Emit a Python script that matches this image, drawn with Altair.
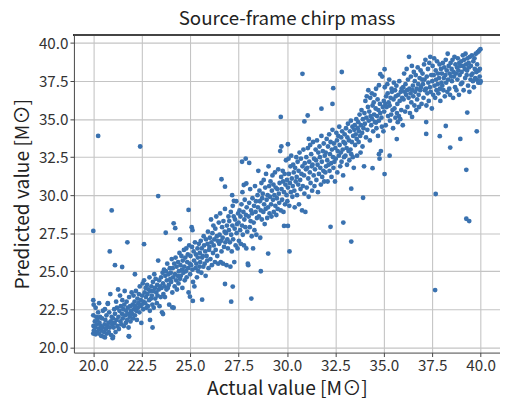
import altair as alt
import pandas as pd

# Hand-read points: [actual, predicted]
band_20_22 = [
    [20.0,23.1],[20.02,22.8],[20.0,22.1],[20.01,21.4],[20.0,20.9],[20.03,21.1],[20.08,21.7],[20.1,21.3],[20.12,20.85],[20.15,22.0],
    [20.18,21.5],[20.2,21.0],[20.22,21.8],[20.25,22.3],[20.28,21.2],[20.3,20.9],[20.32,21.6],[20.35,22.0],[20.38,21.4],[20.4,20.75],
    [20.42,21.1],[20.45,21.9],[20.48,21.3],[20.5,22.4],[20.12,22.6],[20.3,22.9],
    [20.52,20.7],[20.55,21.0],[20.58,21.5],[20.6,20.65],[20.62,21.8],[20.65,21.2],[20.68,22.1],[20.7,20.9],[20.72,21.4],[20.75,22.9],
    [20.78,21.6],[20.8,21.0],[20.82,22.3],[20.85,21.3],[20.88,23.5],[20.9,21.7],[20.92,20.8],[20.95,22.0],[20.98,21.5],[20.6,22.5],[20.75,22.85],
    [21.0,20.6],[21.02,21.9],[21.05,21.3],[21.08,22.5],[21.1,21.6],[21.12,22.2],[21.15,21.0],[21.18,23.0],[21.2,21.8],[21.22,22.6],
    [21.25,21.4],[21.28,23.8],[21.3,22.0],[21.32,21.2],[21.35,22.4],[21.38,23.4],[21.4,21.7],[21.42,22.7],[21.45,21.5],[21.48,22.2],[21.5,23.1],
    [21.52,21.9],[21.55,22.5],[21.58,21.4],[21.6,22.8],[21.62,23.7],[21.65,22.1],[21.68,21.6],[21.7,22.4],[21.72,23.0],[21.75,21.8],
    [21.78,22.6],[21.8,22.2],[21.82,21.3],[21.85,23.3],[21.88,22.0],[21.9,22.7],[21.92,21.7],[21.95,22.4],[21.98,23.6],[21.85,20.7],
]

band_22_26 = [
    [22.0,22.2],[22.03,22.8],[22.05,21.9],[22.08,23.4],[22.1,22.5],[22.13,23.0],[22.15,22.1],[22.18,22.7],[22.2,23.7],[22.22,22.4],
    [22.25,21.8],[22.28,23.2],[22.3,22.6],[22.33,22.9],[22.35,23.5],[22.38,22.3],[22.4,24.0],[22.42,22.7],[22.45,23.1],[22.48,21.6],
    [22.5,22.8],[22.52,23.4],[22.55,24.2],[22.58,22.5],[22.6,23.0],[22.62,24.4],[22.65,23.6],[22.68,22.9],[22.7,23.9],[22.72,23.3],
    [22.75,22.6],[22.78,24.1],[22.8,23.5],[22.82,22.7],[22.85,23.8],[22.88,23.1],[22.9,24.6],[22.92,22.4],[22.95,23.7],[22.98,23.2],
    [23.0,24.0],[23.02,23.4],[23.05,22.8],[23.08,24.3],[23.1,23.7],[23.12,22.6],[23.15,24.8],[23.18,23.9],[23.2,23.2],[23.22,24.5],
    [23.25,23.6],[23.28,22.9],[23.3,24.1],[23.32,23.4],[23.35,25.7],[23.38,23.8],[23.4,24.4],[23.42,22.7],[23.45,24.0],[23.48,23.3],
    [23.5,24.6],[23.52,23.9],[23.55,22.3],[23.58,24.9],[23.6,24.2],[23.62,23.5],[23.65,25.1],[23.68,24.0],[23.7,23.3],[23.72,24.7],
    [23.75,25.0],[23.78,23.8],[23.8,24.4],[23.82,25.5],[23.85,23.9],[23.88,24.8],[23.9,24.1],[23.92,22.8],[23.95,25.2],[23.98,24.5],
    [24.0,24.9],[24.02,24.3],[24.05,25.8],[24.08,23.6],[24.1,25.2],[24.12,24.6],[24.15,22.6],[24.18,25.5],[24.2,24.0],[24.22,24.8],
    [24.25,25.9],[24.28,24.4],[24.3,25.3],[24.32,23.8],[24.35,24.7],[24.38,25.6],[24.4,24.2],[24.42,25.0],[24.45,26.2],[24.48,24.5],
    [24.5,25.4],[24.52,24.7],[24.55,26.0],[24.58,25.1],[24.6,23.9],[24.62,25.7],[24.65,24.9],[24.68,26.4],[24.7,25.3],[24.72,24.4],
    [24.75,25.9],[24.78,25.0],[24.8,26.5],[24.82,24.6],[24.85,25.6],[24.88,26.1],[24.9,25.2],[24.92,23.6],[24.95,26.7],[24.98,25.5],
    [25.0,24.8],[25.02,26.0],[25.05,25.4],[25.08,27.9],[25.1,26.6],[25.12,25.1],[25.15,24.3],[25.18,26.3],[25.2,25.7],[25.22,24.0],
    [25.25,26.9],[25.28,25.2],[25.3,26.1],[25.32,25.5],[25.35,24.6],[25.38,26.5],[25.4,25.9],[25.42,25.0],[25.45,26.8],[25.48,25.3],[25.12,27.7],
    [25.5,26.2],[25.52,25.6],[25.55,27.0],[25.58,24.9],[25.6,26.5],[25.62,25.9],[25.65,26.0],[25.68,25.3],[25.7,27.3],[25.72,26.7],
    [25.75,25.5],[25.78,26.3],[25.8,24.7],[25.82,27.1],[25.85,26.0],[25.88,25.7],[25.9,26.8],[25.92,27.6],[25.95,25.2],[25.98,26.4],
]

band_26_30 = [
    [26.0,26.6],[26.02,27.2],[26.05,25.8],[26.08,28.4],[26.1,26.9],[26.12,25.4],[26.15,27.5],[26.18,26.2],[26.2,28.0],[26.22,26.7],
    [26.25,27.1],[26.28,25.6],[26.3,27.8],[26.32,26.4],[26.35,28.6],[26.38,27.3],[26.4,26.0],[26.42,27.0],[26.45,25.5],[26.48,28.2],
    [26.5,26.8],[26.52,27.4],[26.55,28.8],[26.58,25.6],[26.6,27.0],[26.62,26.3],[26.65,27.9],[26.68,27.2],[26.7,25.5],[26.72,28.3],
    [26.75,26.6],[26.78,27.6],[26.8,29.1],[26.82,26.9],[26.85,27.5],[26.88,25.4],[26.9,28.0],[26.92,27.1],[26.95,26.5],[26.98,28.6],
    [27.0,27.7],[27.02,28.3],[27.05,26.9],[27.08,25.3],[27.1,28.9],[27.12,27.4],[27.15,26.3],[27.18,28.0],[27.2,29.3],[27.22,27.1],
    [27.25,28.6],[27.28,25.6],[27.3,27.8],[27.32,28.4],[27.35,26.7],[27.38,29.6],[27.4,27.5],[27.42,28.1],[27.45,26.5],[27.48,28.8],
    [27.5,28.2],[27.52,27.0],[27.55,29.0],[27.58,27.7],[27.6,28.6],[27.62,26.8],[27.65,29.4],[27.68,28.0],[27.7,30.2],[27.72,27.4],
    [27.75,28.9],[27.78,26.7],[27.8,28.4],[27.82,29.7],[27.85,27.9],[27.88,28.7],[27.9,26.5],[27.92,29.2],[27.95,27.6],[27.98,25.5],[28.0,25.4],
    [28.02,28.6],[28.05,29.5],[28.08,27.9],[28.1,30.4],[28.12,28.3],[28.15,29.0],[28.18,27.3],[28.2,28.8],[28.22,29.8],[28.25,26.5],
    [28.28,28.2],[28.3,29.3],[28.32,27.7],[28.35,30.6],[28.38,28.9],[28.4,29.6],[28.42,27.4],[28.45,28.5],[28.48,30.0],
    [28.5,29.2],[28.52,31.6],[28.55,28.6],[28.58,30.3],[28.6,29.6],[28.62,27.2],[28.65,29.0],[28.68,30.8],[28.7,28.4],[28.72,29.8],
    [28.75,30.1],[28.78,28.9],[28.8,31.0],[28.82,29.4],[28.85,28.1],[28.88,30.5],[28.9,29.1],[28.92,31.4],[28.95,29.7],[28.98,28.5],
    [29.0,30.0],[29.02,29.2],[29.05,31.9],[29.08,30.6],[29.1,28.8],[29.12,29.9],[29.15,30.9],[29.18,29.4],[29.2,28.6],[29.22,30.3],
    [29.25,31.3],[29.28,29.7],[29.3,30.7],[29.32,28.9],[29.35,30.0],[29.38,31.5],[29.4,29.3],[29.42,30.5],[29.45,28.7],[29.48,29.8],
    [29.5,30.4],[29.52,29.1],[29.55,31.7],[29.58,30.1],[29.6,29.5],[29.62,30.8],[29.65,32.9],[29.68,29.0],[29.7,31.2],[29.72,30.4],
    [29.75,29.7],[29.78,31.6],[29.8,30.9],[29.82,28.9],[29.85,30.2],[29.88,31.4],[29.9,29.4],[29.92,30.7],[29.95,32.3],[29.98,30.0],
]

band_30_34 = [
    [30.0,31.0],[30.02,29.6],[30.05,30.5],[30.08,32.4],[30.1,31.4],[30.12,29.3],[30.15,30.8],[30.18,31.9],[30.2,30.2],[30.22,32.6],
    [30.25,31.1],[30.28,29.9],[30.3,30.6],[30.32,32.0],[30.35,31.5],[30.38,30.3],[30.4,29.2],[30.42,31.8],[30.45,30.9],[30.48,32.5],
    [30.5,31.2],[30.52,30.0],[30.55,32.2],[30.58,30.7],[30.6,31.6],[30.62,29.4],[30.65,32.8],[30.68,31.0],[30.7,30.4],[30.72,32.4],
    [30.75,31.4],[30.78,29.0],[30.8,31.9],[30.82,30.6],[30.85,33.0],[30.88,31.3],[30.9,30.1],[30.92,32.1],[30.95,28.9],[30.98,31.7],
    [31.0,32.5],[31.02,30.5],[31.05,31.8],[31.08,33.1],[31.1,31.1],[31.12,29.9],[31.15,32.2],[31.18,31.5],[31.2,33.3],[31.22,30.8],
    [31.25,32.7],[31.28,31.9],[31.3,30.3],[31.32,32.0],[31.35,33.5],[31.38,31.3],[31.4,32.4],[31.42,30.6],[31.45,31.7],[31.48,33.0],
    [31.5,32.3],[31.52,31.0],[31.55,33.6],[31.58,32.0],[31.6,30.2],[31.62,32.8],[31.65,31.4],[31.68,33.2],[31.7,32.5],[31.72,31.8],
    [31.75,30.7],[31.78,33.9],[31.8,32.2],[31.82,31.2],[31.85,32.9],[31.88,31.6],[31.9,33.4],[31.92,30.9],[31.95,32.6],[31.98,31.5],
    [32.0,32.8],[32.02,31.9],[32.05,33.7],[32.08,32.3],[32.1,30.9],[32.12,33.2],[32.15,32.0],[32.18,34.0],[32.2,31.6],[32.22,32.7],
    [32.25,33.5],[32.28,32.1],[32.3,31.2],[32.32,33.0],[32.35,34.3],[32.38,32.5],[32.4,31.8],[32.42,33.4],[32.45,32.2],[32.48,30.9],
    [32.5,33.1],[32.52,32.4],[32.55,34.1],[32.58,33.6],[32.6,31.5],[32.62,32.9],[32.65,33.9],[32.68,32.6],[32.7,34.5],[32.72,33.3],
    [32.75,31.9],[32.78,32.8],[32.8,33.8],[32.82,32.2],[32.85,34.2],[32.88,33.0],[32.9,31.3],[32.92,33.5],[32.95,32.5],[32.98,34.0],
    [33.0,33.4],[33.02,32.6],[33.05,34.4],[33.08,33.1],[33.1,32.0],[33.12,33.8],[33.15,34.7],[33.18,32.9],[33.2,33.6],[33.22,32.3],
    [33.25,34.2],[33.28,33.0],[33.3,34.9],[33.32,32.7],[33.35,33.5],[33.38,34.5],[33.4,32.5],[33.42,33.9],[33.45,31.8],[33.48,34.3],
    [33.5,34.6],[33.52,33.3],[33.55,34.0],[33.58,35.0],[33.6,33.7],[33.62,32.6],[33.65,34.4],[33.68,34.8],[33.7,33.5],[33.72,34.2],
    [33.75,35.3],[33.78,33.9],[33.8,32.8],[33.82,34.6],[33.85,35.6],[33.88,34.1],[33.9,33.2],[33.92,35.0],[33.95,34.4],[33.98,31.9],
]

band_34_37 = [
    [34.0,35.4],[34.02,34.7],[34.05,36.2],[34.08,33.8],[34.1,35.1],[34.12,36.5],[34.15,34.3],[34.18,35.8],[34.2,36.9],[34.22,34.9],
    [34.25,35.5],[34.28,33.6],[34.3,36.4],[34.32,35.2],[34.35,34.6],[34.38,36.7],[34.4,35.0],[34.42,35.9],[34.45,34.2],[34.48,36.1],
    [34.5,35.3],[34.52,36.6],[34.55,34.8],[34.58,35.7],[34.6,37.0],[34.62,34.4],[34.65,35.2],[34.68,36.3],[34.7,33.9],[34.72,35.6],
    [34.75,34.9],[34.78,32.4],[34.8,36.0],[34.82,35.4],[34.85,32.9],[34.88,35.1],[34.9,34.5],[34.92,37.8],[34.95,35.8],[34.98,34.2],
    [35.0,36.2],[35.02,35.5],[35.05,37.1],[35.08,36.0],[35.1,34.6],[35.12,36.5],[35.15,35.8],[35.18,37.3],[35.2,36.7],[35.22,35.2],
    [35.25,36.1],[35.28,37.6],[35.3,35.9],[35.32,34.9],[35.35,36.4],[35.38,35.3],[35.4,37.0],[35.42,36.8],[35.45,35.6],[35.48,34.4],
    [35.5,36.3],[35.52,37.4],[35.55,35.7],[35.58,36.9],[35.6,35.1],[35.62,36.5],[35.65,37.2],[35.68,35.4],[35.7,36.0],[35.72,34.8],
    [35.75,36.6],[35.78,35.2],[35.8,37.5],[35.82,36.2],[35.85,35.0],[35.88,36.8],[35.9,35.6],[35.92,37.0],[35.95,36.4],[35.98,34.6],
    [36.0,37.1],[36.02,36.3],[36.05,38.0],[36.08,36.8],[36.1,35.5],[36.12,37.3],[36.15,36.6],[36.18,38.3],[36.2,36.9],[36.22,35.8],
    [36.25,37.6],[36.28,36.4],[36.3,39.1],[36.32,37.0],[36.35,35.4],[36.38,36.7],[36.4,37.8],[36.42,36.1],[36.45,38.5],[36.48,36.9],
    [36.5,37.2],[36.52,36.5],[36.55,38.1],[36.58,35.9],[36.6,37.5],[36.62,36.8],[36.65,37.9],[36.68,35.6],[36.7,37.0],[36.72,36.3],
    [36.75,38.4],[36.78,37.3],[36.8,36.6],[36.82,35.8],[36.85,37.7],[36.88,36.9],[36.9,38.2],[36.92,37.1],[36.95,36.0],[36.98,37.6],
]

band_37_40 = [
    [37.0,38.0],[37.02,37.3],[37.05,36.4],[37.08,38.6],[37.1,37.6],[37.12,36.9],[37.15,38.9],[37.18,37.0],[37.2,35.9],[37.22,37.8],
    [37.25,36.7],[37.28,38.3],[37.3,37.4],[37.32,36.2],[37.35,38.7],[37.38,37.1],[37.4,39.1],[37.42,36.8],[37.45,37.9],[37.48,35.7],
    [37.5,37.5],[37.52,38.5],[37.55,36.6],[37.58,37.9],[37.6,39.0],[37.62,37.2],[37.65,36.4],[37.68,38.2],[37.7,37.6],[37.72,36.9],
    [37.75,38.8],[37.78,37.3],[37.8,38.0],[37.82,36.7],[37.85,37.7],[37.88,38.6],[37.9,37.0],[37.92,36.2],[37.95,38.3],[37.98,37.4],
    [38.0,38.0],[38.02,37.2],[38.05,38.7],[38.08,36.9],[38.1,37.7],[38.12,38.4],[38.15,36.5],[38.18,37.9],[38.2,38.9],[38.22,37.4],
    [38.25,38.2],[38.28,36.8],[38.3,39.3],[38.32,37.6],[38.35,38.5],[38.38,37.0],[38.4,38.0],[38.42,36.6],[38.45,38.7],[38.48,37.8],
    [38.5,38.3],[38.52,37.5],[38.55,38.9],[38.58,36.4],[38.6,38.1],[38.62,37.8],[38.65,39.1],[38.68,37.1],[38.7,38.6],[38.72,38.0],
    [38.75,36.9],[38.78,38.4],[38.8,37.6],[38.82,39.0],[38.85,38.2],[38.88,36.6],[38.9,38.7],[38.92,37.9],[38.95,38.5],[38.98,37.3],
    [39.0,38.8],[39.02,38.1],[39.05,37.4],[39.08,39.2],[39.1,38.5],[39.12,36.9],[39.15,38.9],[39.18,38.3],[39.2,37.7],[39.22,39.3],
    [39.25,38.6],[39.28,37.9],[39.3,38.2],[39.32,39.0],[39.35,37.2],[39.38,38.7],[39.4,38.4],[39.42,36.8],[39.45,39.1],[39.48,37.6],
    [39.5,38.5],[39.52,37.9],[39.55,39.2],[39.58,38.0],[39.6,37.5],[39.62,38.8],[39.65,37.1],[39.68,39.0],[39.7,38.3],[39.72,37.7],
    [39.75,39.3],[39.78,38.1],[39.8,37.6],[39.82,38.6],[39.85,39.4],[39.88,37.4],[39.9,38.2],[39.92,39.5],[39.95,37.8],[39.98,37.4],
    [40.0,37.5],[39.96,38.3],[39.99,39.6],
]

outliers = [
    [20.0,27.65],[20.25,33.9],[20.95,29.0],[20.85,26.3],[21.12,25.4],[21.49,25.28],[21.76,26.9],[22.15,24.8],[22.42,33.2],[22.62,26.78],
    [23.35,29.94],[23.74,27.53],[24.15,28.15],[24.23,27.83],[24.92,29.03],[24.48,27.1],[25.14,23.05],[25.62,23.13],[26.62,31.05],[26.8,30.56],
    [27.17,30.0],[27.26,29.63],[27.68,32.2],[27.87,32.4],[28.05,32.12],[27.77,30.67],[27.9,30.77],[27.12,23.0],[27.2,23.99],[26.8,24.16],
    [28.16,23.2],[28.65,25.0],[29.03,26.16],[29.68,35.15],[29.71,33.2],[30.05,33.35],[30.13,26.3],[29.85,27.98],[30.05,27.98],[30.8,37.98],
    [30.9,34.85],[31.07,35.24],[31.13,33.7],[31.78,35.69],[32.35,36.0],[32.39,37.04],[32.25,27.92],[32.83,38.1],[32.91,28.2],[33.32,26.95],
    [33.32,30.43],[33.93,29.83],[34.42,31.78],[34.6,34.78],[34.75,32.7],[35.04,31.39],[35.3,32.6],[34.75,37.23],[34.82,37.96],[35.04,38.28],
    [35.67,33.69],[36.46,35.15],[37.19,34.81],[37.19,34.03],[37.68,30.08],[37.65,23.76],[37.89,33.88],[38.2,34.55],[38.43,33.13],[38.95,33.7],
    [39.26,31.67],[39.31,35.43],[39.26,28.45],[39.41,28.3],[39.8,34.2],
    [21.02,20.69],[21.83,20.73],[23.06,21.3],[22.93,21.8],[23.6,22.19],[24.08,22.62],[24.99,23.33],
]

all_points = band_20_22 + band_22_26 + band_26_30 + band_30_34 + band_34_37 + band_37_40 + outliers
df = pd.DataFrame(all_points, columns=["actual", "predicted"])

tick_vals = [20.0, 22.5, 25.0, 27.5, 30.0, 32.5, 35.0, 37.5, 40.0]
FONT = "Noto Sans CJK JP"

points = alt.Chart(df).mark_circle(size=24, opacity=1, color="#3a72b0").encode(
    x=alt.X("actual:Q", scale=alt.Scale(domain=[19, 41], nice=False, zero=False),
            axis=alt.Axis(values=tick_vals, format=".1f", title="Actual value [M⊙]")),
    y=alt.Y("predicted:Q", scale=alt.Scale(domain=[19.65, 40.55], nice=False, zero=False),
            axis=alt.Axis(values=tick_vals, format=".1f", title="Predicted value [M⊙]")),
)

top_line = alt.Chart(df).mark_rule(color="#444", strokeWidth=1).encode(
    x=alt.value(0), x2=alt.value(433), y=alt.value(0)
)

chart = alt.layer(points, top_line).properties(
    width=433, height=323,
    title=alt.TitleParams("Source-frame chirp mass", fontSize=19, font=FONT,
                          fontWeight="normal", color="#222", offset=5),
    autosize=alt.AutoSizeParams(type="none"),
    padding={"left": 67, "top": 24, "right": 0, "bottom": 46},
).configure_view(stroke=None).configure_axis(
    zindex=1,
    grid=True, gridColor="#c4c4c4", gridWidth=1.1,
    domain=True, domainColor="#444", domainWidth=1,
    ticks=True, tickColor="#444", tickSize=4, tickWidth=1,
    labelFont=FONT, labelFontSize=15.5, labelColor="#333", labelPadding=2,
    titleFont=FONT, titleFontSize=19.5, titleFontWeight="normal", titleColor="#222",
).configure_axisX(titlePadding=6).configure_axisY(titlePadding=6)

chart.save("out.html", embed_options={"renderer": "svg", "actions": False})
